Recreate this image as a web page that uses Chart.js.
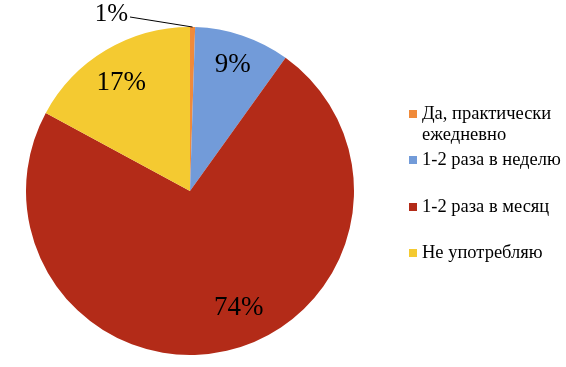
<!DOCTYPE html>
<html>
<head>
<meta charset="utf-8">
<script src="https://cdn.jsdelivr.net/npm/chart.js@4"></script>
<style>
  html, body { margin: 0; padding: 0; background: #fff; }
  #wrap { width: 566px; height: 367px; position: relative; }
</style>
</head>
<body>
<div id="wrap"><canvas id="chart" width="566" height="367"></canvas></div>
<script>
// Data
const categories = ['Да, практически ежедневно', '1-2 раза в неделю', '1-2 раза в месяц', 'Не употребляю'];
const values = [0.5, 9.4, 73.0, 17.1];
const valueLabels = ['1%', '9%', '74%', '17%'];
const colors = ['#F08A3A', '#729BD9', '#B32B18', '#F4CA31'];

const FONT = '"Liberation Serif", "Times New Roman", serif';

// Percent labels drawn on/near slices
const sliceLabels = {
  id: 'sliceLabels',
  afterDatasetsDraw(chart) {
    const ctx = chart.ctx;
    const arcs = chart.getDatasetMeta(0).data;
    ctx.save();
    ctx.font = '27px ' + FONT;
    ctx.fillStyle = '#000';
    ctx.textAlign = 'center';
    ctx.textBaseline = 'middle';
    arcs.forEach((arc, i) => {
      const mid = (arc.startAngle + arc.endAngle) / 2;
      const r = arc.outerRadius;
      if (i === 0) {
        // tiny slice: leader line out to the left
        const sx = arc.x + Math.cos(mid) * r;
        const sy = arc.y + Math.sin(mid) * r;
        const ex = arc.x - 60, ey = arc.y - r - 10;
        ctx.strokeStyle = '#000';
        ctx.lineWidth = 1;
        ctx.beginPath();
        ctx.moveTo(sx, sy);
        ctx.lineTo(ex, ey);
        ctx.stroke();
        ctx.font = '25px ' + FONT;
        ctx.textAlign = 'right';
        ctx.fillText(valueLabels[i], ex - 2, ey - 3);
        ctx.font = '27px ' + FONT;
        ctx.textAlign = 'center';
        return;
      }
      const shift = i === 2 ? -0.17 : (i === 3 ? -0.03 : 0);
      const frac = i === 2 ? 0.77 : (i === 3 ? 0.78 : 0.81);
      const a = mid + shift;
      ctx.fillText(valueLabels[i], arc.x + Math.cos(a) * r * frac, arc.y + Math.sin(a) * r * frac);
    });
    ctx.restore();
  }
};

// Legend on the right, Excel style
const sideLegend = {
  id: 'sideLegend',
  afterDraw(chart) {
    const ctx = chart.ctx;
    const rows = [[114, 135], [160], [207], [253]];
    const lines = [['Да, практически', 'ежедневно'], [categories[1]], [categories[2]], [categories[3]]];
    ctx.save();
    ctx.font = '18.5px ' + FONT;
    ctx.textBaseline = 'middle';
    ctx.textAlign = 'left';
    rows.forEach((ys, i) => {
      ctx.fillStyle = colors[i];
      ctx.fillRect(409, ys[0] - 4, 8, 8);
      ctx.fillStyle = '#000';
      lines[i].forEach((t, j) => ctx.fillText(t, 422, ys[j]));
    });
    ctx.restore();
  }
};

new Chart(document.getElementById('chart'), {
  type: 'pie',
  data: {
    labels: categories,
    datasets: [{
      data: values,
      backgroundColor: colors,
      borderWidth: 0
    }]
  },
  options: {
    responsive: false,
    animation: false,
    layout: { padding: { left: 26, right: 212, top: 27, bottom: 12 } },
    plugins: {
      legend: { display: false },
      tooltip: { enabled: false }
    }
  },
  plugins: [sliceLabels, sideLegend]
});
</script>
</body>
</html>
